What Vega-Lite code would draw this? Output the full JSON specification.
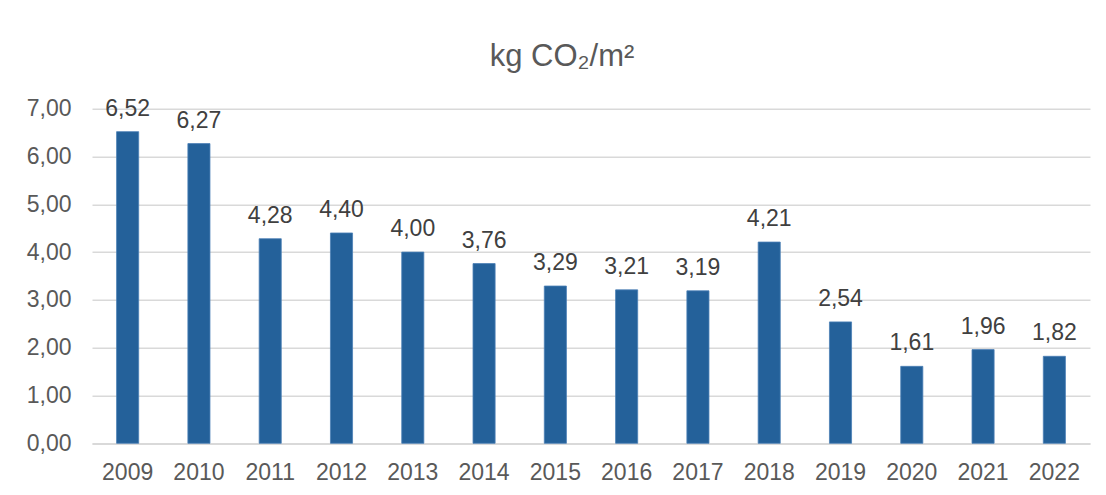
{
  "$schema": "https://vega.github.io/schema/vega-lite/v6.json",
  "width": 998,
  "height": 334.6,
  "autosize": {"type": "none"},
  "padding": {"left": 92, "top": 108.7, "right": 16, "bottom": 51.7},
  "background": "white",
  "title": {
    "text": "kg CO₂/m²",
    "font": "Liberation Sans",
    "fontSize": 31,
    "fontWeight": "normal",
    "color": "#595959",
    "anchor": "middle",
    "frame": "group",
    "baseline": "alphabetic",
    "offset": 1,
    "dx": -29
  },
  "data": {
    "values": [
      {"year": "2009", "value": 6.52},
      {"year": "2010", "value": 6.27},
      {"year": "2011", "value": 4.28},
      {"year": "2012", "value": 4.40},
      {"year": "2013", "value": 4.00},
      {"year": "2014", "value": 3.76},
      {"year": "2015", "value": 3.29},
      {"year": "2016", "value": 3.21},
      {"year": "2017", "value": 3.19},
      {"year": "2018", "value": 4.21},
      {"year": "2019", "value": 2.54},
      {"year": "2020", "value": 1.61},
      {"year": "2021", "value": 1.96},
      {"year": "2022", "value": 1.82}
    ]
  },
  "config": {
    "view": {"stroke": null},
    "font": "Liberation Sans",
    "locale": {"number": {"decimal": ",", "thousands": ".", "grouping": [3], "currency": ["", " €"]}}
  },
  "encoding": {
    "x": {
      "field": "year",
      "type": "ordinal",
      "scale": {"paddingInner": 0.69, "paddingOuter": 0.345},
      "axis": {
        "title": null,
        "labelAngle": 0,
        "labelFont": "Liberation Sans",
        "labelFontSize": 23,
        "labelColor": "#595959",
        "labelPadding": 18,
        "ticks": false,
        "domainColor": "#d9d9d9",
        "domainWidth": 1.5
      }
    },
    "y": {
      "field": "value",
      "type": "quantitative",
      "scale": {"domain": [0, 7], "nice": false},
      "axis": {
        "title": null,
        "values": [0, 1, 2, 3, 4, 5, 6, 7],
        "format": ".2f",
        "labelFont": "Liberation Sans",
        "labelFontSize": 23,
        "labelColor": "#595959",
        "labelPadding": 21,
        "ticks": false,
        "domain": false,
        "gridColor": "#d9d9d9",
        "gridWidth": 1.5
      }
    }
  },
  "layer": [
    {
      "mark": {"type": "bar", "color": "#24619a", "stroke": "#4a7fb5", "strokeWidth": 0.8}
    },
    {
      "mark": {
        "type": "text",
        "baseline": "alphabetic",
        "dy": -16,
        "font": "Liberation Sans",
        "fontSize": 23,
        "color": "#404040"
      },
      "encoding": {
        "text": {"field": "value", "type": "quantitative", "format": ".2f"}
      }
    }
  ]
}
